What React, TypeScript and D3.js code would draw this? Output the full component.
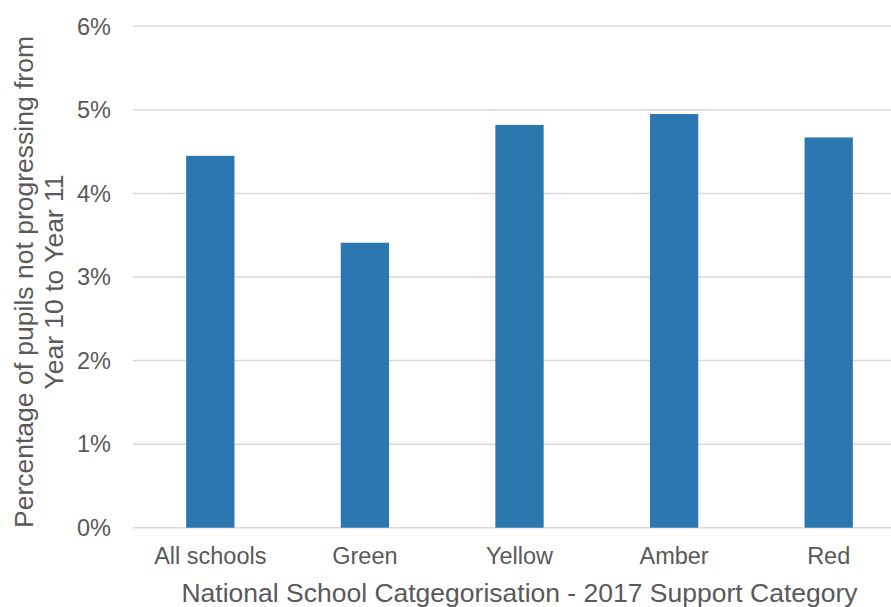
import React from "react";
import * as d3 from "d3";

// Support categories and share of pupils not progressing (percent)
const categories = ["All schools", "Green", "Yellow", "Amber", "Red"];
const values = [4.45, 3.41, 4.82, 4.95, 4.67];
const yTicks = [0, 1, 2, 3, 4, 5, 6];
const xTitle = "National School Catgegorisation - 2017 Support Category";
const yTitleLines = ["Percentage of pupils not progressing from", "Year 10 to Year 11"];

const W = 891;
const H = 607;
const FONT = "'Liberation Sans', Arial, sans-serif";
const TEXT = "#595959";

export default function App() {
  const x = d3
    .scaleBand<string>()
    .domain(categories)
    .range([133, 906])
    .paddingInner(0.6875)
    .paddingOuter(0.34375);
  const y = d3.scaleLinear().domain([0, 6]).range([527.7, 26.3]);

  const yMid = (y(0) + y(6)) / 2 + 5;

  return (
    <div style={{ position: "fixed", left: 0, top: 0 }}>
      <svg width={W} height={H} style={{ display: "block", background: "#fff" }}>
        {/* gridlines */}
        {yTicks.map((t) => (
          <line
            key={"g" + t}
            x1={133}
            x2={W}
            y1={y(t)}
            y2={y(t)}
            stroke="#d9d9d9"
            strokeWidth={1.5}
          />
        ))}
        {/* bars */}
        {categories.map((c, i) => (
          <rect
            key={c}
            x={x(c)}
            y={y(values[i])}
            width={x.bandwidth()}
            height={y(0) - y(values[i])}
            fill="#2b78b0"
          />
        ))}
        {/* y tick labels */}
        {yTicks.map((t) => (
          <text
            key={"t" + t}
            x={111}
            y={y(t)}
            dy="0.35em"
            textAnchor="end"
            fontFamily={FONT}
            fontSize={23.5}
            fill={TEXT}
          >
            {t + "%"}
          </text>
        ))}
        {/* x category labels */}
        {categories.map((c) => (
          <text
            key={"x" + c}
            x={(x(c) as number) + x.bandwidth() / 2}
            y={564}
            textAnchor="middle"
            fontFamily={FONT}
            fontSize={23.5}
            fill={TEXT}
          >
            {c}
          </text>
        ))}
        {/* x axis title */}
        <text
          x={519.5}
          y={602}
          textAnchor="middle"
          fontFamily={FONT}
          fontSize={26.5}
          fill={TEXT}
        >
          {xTitle}
        </text>
        {/* y axis title */}
        {yTitleLines.map((line, i) => (
          <text
            key={"yt" + i}
            transform={`translate(${33 + i * 30},${yMid}) rotate(-90)`}
            textAnchor="middle"
            fontFamily={FONT}
            fontSize={26.5}
            fill={TEXT}
          >
            {line}
          </text>
        ))}
      </svg>
    </div>
  );
}
